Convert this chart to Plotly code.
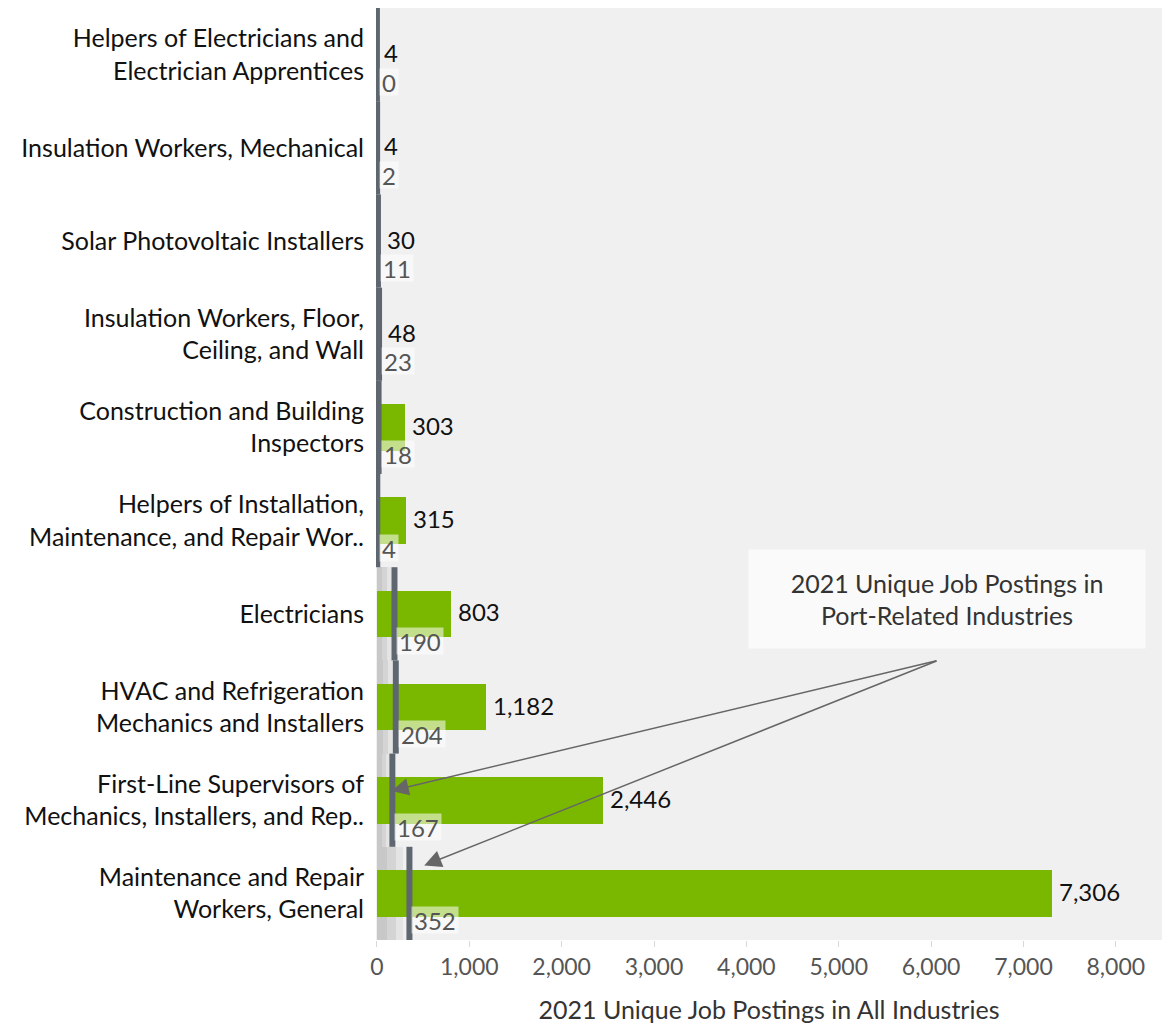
import plotly.graph_objects as go

# ---- data (top to bottom) ----
categories = [
    "Helpers of Electricians and<br>Electrician Apprentices",
    "Insulation Workers, Mechanical",
    "Solar Photovoltaic Installers",
    "Insulation Workers, Floor,<br>Ceiling, and Wall",
    "Construction and Building<br>Inspectors",
    "Helpers of Installation,<br>Maintenance, and Repair Wor..",
    "Electricians",
    "HVAC and Refrigeration<br>Mechanics and Installers",
    "First-Line Supervisors of<br>Mechanics, Installers, and Rep..",
    "Maintenance and Repair<br>Workers, General",
]
all_industries = [4, 4, 30, 48, 303, 315, 803, 1182, 2446, 7306]
port_related = [0, 2, 11, 23, 18, 4, 190, 204, 167, 352]
x_ticks = [0, 1000, 2000, 3000, 4000, 5000, 6000, 7000, 8000]

FONT = "Lato"
idx = list(range(len(categories)))

fig = go.Figure()

# bullet-graph distribution bands (80%, 60%, 30% of port-related value)
for frac, col in [(0.8, "#e4e4e4"), (0.6, "#d4d4d4"), (0.3, "#c8c8c8")]:
    fig.add_trace(go.Bar(
        y=idx, x=[v * frac for v in port_related], orientation="h",
        width=1.0, marker=dict(color=col, line=dict(width=0)),
        hoverinfo="skip", showlegend=False,
    ))

# main green bars
fig.add_trace(go.Bar(
    y=idx, x=all_industries, orientation="h", width=0.5,
    marker=dict(color="#7ab800", line=dict(width=0)),
    showlegend=False, name="All Industries",
))

# target reference lines (port-related value)
lx, ly = [], []
for i, v in zip(idx, port_related):
    lx += [v, v, None]
    ly += [i - 0.5, i + 0.5, None]
fig.add_trace(go.Scatter(
    x=lx, y=ly, mode="lines",
    line=dict(color="#5e6670", width=6),
    hoverinfo="skip", showlegend=False,
))

annotations = []
for i, v, p in zip(idx, all_industries, port_related):
    annotations.append(dict(
        x=v, y=i, xref="x", yref="y", text=f"{v:,}", showarrow=False,
        xanchor="left", yanchor="middle", xshift=5, yshift=2,
        font=dict(family=FONT, size=24, color="#111111"),
    ))
    annotations.append(dict(
        x=p, y=i + 0.29, xref="x", yref="y", text=f"{p:,}", showarrow=False,
        xanchor="left", yanchor="middle", xshift=2, height=22,
        bgcolor="rgba(255,255,255,0.55)", borderpad=2,
        font=dict(family=FONT, size=24, color="#555555"),
    ))

# callout box
annotations.append(dict(
    x=6168, y=5.84, xref="x", yref="y",
    text="2021 Unique Job Postings in<br>Port-Related Industries",
    showarrow=False, xanchor="center", yanchor="middle",
    width=396, height=98, bgcolor="#fafafa", borderpad=0,
    font=dict(family=FONT, size=25, color="#333333"),
))
# arrows from callout
tail_x, tail_y = 6075, 6.5
for tx, ty in [(port_related[8] - 10, 7.9), (port_related[9] + 160, 8.7)]:
    annotations.append(dict(
        x=tx, y=ty, xref="x", yref="y", ax=tail_x, ay=tail_y,
        axref="x", ayref="y", text="", showarrow=True,
        arrowhead=2, arrowsize=2.3, arrowwidth=1.5, arrowcolor="#666666",
    ))

fig.update_layout(
    width=1158, height=1018,
    margin=dict(l=368, r=4, t=0, b=86),
    paper_bgcolor="white", plot_bgcolor="#f0f0f0",
    barmode="overlay", bargap=0,
    font=dict(family=FONT, size=25, color="#222222"),
    annotations=annotations,
    showlegend=False,
)
fig.update_yaxes(
    range=[9.5, -0.5], tickvals=idx, ticktext=categories,
    showgrid=False, zeroline=False, ticks="", ticklabelstandoff=11,
    tickfont=dict(family=FONT, size=25, color="#111111"),
)
fig.update_xaxes(
    range=[-10, 8500], tickvals=x_ticks, ticktext=[f"{t:,}" for t in x_ticks],
    showgrid=False, zeroline=False, ticks="outside", ticklen=6,
    tickcolor="#d8d8d8",
    tickfont=dict(family=FONT, size=23, color="#555555"),
    title=dict(text="2021 Unique Job Postings in All Industries",
               font=dict(family=FONT, size=25, color="#333333"), standoff=22),
)

fig.write_html("out.html")
